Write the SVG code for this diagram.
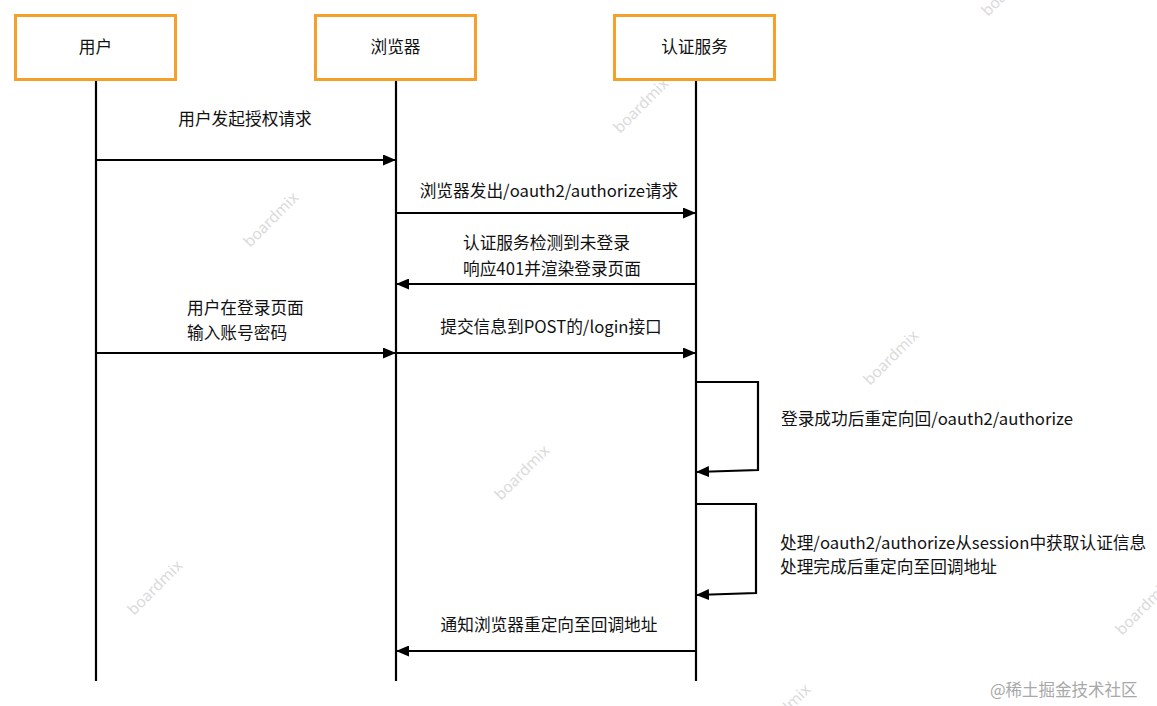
<svg xmlns="http://www.w3.org/2000/svg" width="1157" height="706" viewBox="0 0 1157 706">
<style>
.box{fill:#fff;stroke:#f5a02a;stroke-width:3}
.lbl{font-family:"Noto Sans CJK SC","Noto Sans",sans-serif;font-size:16.7px;fill:#111}
.life{stroke:#000;stroke-width:2.2;fill:none}
.msg{stroke:#000;stroke-width:2.2;fill:none;marker-end:url(#ah)}
.wm{font-family:"Noto Sans","Noto Sans CJK SC",sans-serif;font-size:15.5px;fill:#dadada}
.wm2{font-family:"Noto Sans CJK SC",sans-serif;font-size:16.5px;fill:#a8a8a8}
</style>
<defs>
<marker id="ah" markerWidth="13" markerHeight="11" refX="13" refY="5.5" orient="auto" markerUnits="userSpaceOnUse">
<path d="M0,0 L13,5.5 L0,11 Z" fill="#000"/>
</marker>
</defs>
<rect width="1157" height="706" fill="#fff"/>
<g id="watermarks">
<text class="wm" transform="translate(620,134) rotate(-45)">boardmix</text>
<text class="wm" transform="translate(250,248) rotate(-45)">boardmix</text>
<text class="wm" transform="translate(870,386) rotate(-45)">boardmix</text>
<text class="wm" transform="translate(501,501) rotate(-45)">boardmix</text>
<text class="wm" transform="translate(134,616) rotate(-45)">boardmix</text>
<text class="wm" transform="translate(988,17) rotate(-45)">boardmix</text>
<text class="wm" transform="translate(1122,636) rotate(-45)">boardmix</text>
<text class="wm" transform="translate(762,740) rotate(-45)">boardmix</text>
<text class="wm2" x="990" y="696">@稀土掘金技术社区</text>
</g>
<g id="lifelines">
<line class="life" x1="96" y1="79" x2="96" y2="681"/>
<line class="life" x1="396" y1="79" x2="396" y2="681"/>
<line class="life" x1="696" y1="79" x2="696" y2="681"/>
</g>
<g id="node-user">
<rect class="box" x="15.5" y="15.5" width="160" height="64"/>
<text class="lbl" x="95.5" y="53" text-anchor="middle">用户</text>
</g>
<g id="node-browser">
<rect class="box" x="315.5" y="15.5" width="160" height="64"/>
<text class="lbl" x="395.5" y="53" text-anchor="middle">浏览器</text>
</g>
<g id="node-auth">
<rect class="box" x="614.5" y="15.5" width="160" height="64"/>
<text class="lbl" x="694.5" y="53" text-anchor="middle">认证服务</text>
</g>
<g id="connectors">
<line class="msg" x1="96" y1="160" x2="396" y2="160"/>
<line class="msg" x1="396" y1="213" x2="696" y2="213"/>
<line class="msg" x1="696" y1="284" x2="396" y2="284"/>
<line class="msg" x1="96" y1="353" x2="396" y2="353"/>
<line class="msg" x1="396" y1="353" x2="696" y2="353"/>
<path class="msg" d="M696,382 L758,382 L758,470 L696,472"/>
<path class="msg" d="M696,504 L756,504 L756,593 L696,595"/>
<line class="msg" x1="696" y1="651" x2="396" y2="651"/>
</g>
<g id="labels">
<text class="lbl" x="245" y="125" text-anchor="middle">用户发起授权请求</text>
<text class="lbl" x="549" y="197" text-anchor="middle">浏览器发出/oauth2/authorize请求</text>
<text class="lbl" x="463" y="249">认证服务检测到未登录</text>
<text class="lbl" x="463" y="275">响应401并渲染登录页面</text>
<text class="lbl" x="187" y="314">用户在登录页面</text>
<text class="lbl" x="187" y="339">输入账号密码</text>
<text class="lbl" x="551" y="333" text-anchor="middle">提交信息到POST的/login接口</text>
<text class="lbl" x="781" y="425">登录成功后重定向回/oauth2/authorize</text>
<text class="lbl" x="780" y="549">处理/oauth2/authorize从session中获取认证信息</text>
<text class="lbl" x="780" y="573">处理完成后重定向至回调地址</text>
<text class="lbl" x="549" y="631" text-anchor="middle">通知浏览器重定向至回调地址</text>
</g>
</svg>
